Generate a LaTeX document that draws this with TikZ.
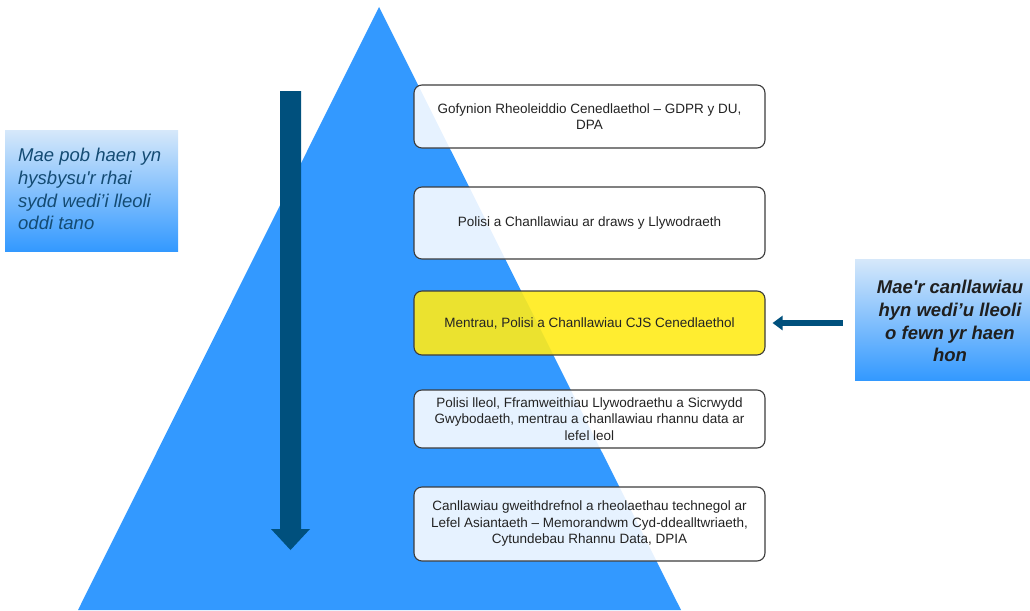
\documentclass[tikz,border=0pt]{standalone}
\usepackage{fontspec}
\setmainfont{Liberation Sans}[Ligatures=TeXOff]
\usetikzlibrary{arrows.meta}
\definecolor{triblue}{RGB}{51,153,255}
\definecolor{darkarrow}{RGB}{0,80,125}
\definecolor{boxborder}{RGB}{60,60,60}
\definecolor{boxtext}{RGB}{35,35,35}
\definecolor{ylw}{RGB}{255,235,25}
\definecolor{shadetop}{RGB}{214,232,250}
\definecolor{lefttext}{RGB}{20,75,115}
\tikzset{
  layerbox/.style={draw=boxborder, line width=1.1pt, rounded corners=8pt,
    fill=white, fill opacity=0.88, text opacity=1, text=boxtext,
    minimum width=351pt, align=center, font=\fontsize{13.5}{16.5}\selectfont,
    inner sep=0pt},
  hilitebox/.style={layerbox, fill=ylw, fill opacity=0.9},
  notebox/.style={top color=shadetop, bottom color=triblue, inner sep=0pt},
  harrow/.style={draw=darkarrow, line width=6pt, -{Triangle[width=14pt,length=10pt]}},
}
\begin{document}
\begin{tikzpicture}[x=1pt,y=-1pt]
\useasboundingbox (0,0) rectangle (1030,610);
% pyramid
\fill[triblue] (379,7) -- (78,610) -- (681,610) -- cycle;
% vertical arrow
\fill[darkarrow] (280,91) -- (301,91) -- (301,529) -- (310,529) -- (290.5,550)
  -- (271,529) -- (280,529) -- cycle;
% layer boxes
\node[layerbox, minimum height=63pt] (b1) at (589.5,116.5)
  {Gofynion Rheoleiddio Cenedlaethol – GDPR y DU,\\DPA};
\node[layerbox, minimum height=72pt] (b2) at (589.5,223)
  {Polisi a Chanllawiau ar draws y Llywodraeth};
\node[hilitebox, minimum height=64pt] (b3) at (589.5,323)
  {Mentrau, Polisi a Chanllawiau CJS Cenedlaethol};
\node[layerbox, minimum height=58pt] (b4) at (589.5,419)
  {Polisi lleol, Fframweithiau Llywodraethu a Sicrwydd\\Gwybodaeth, mentrau a chanllawiau rhannu data ar\\lefel leol};
\node[layerbox, minimum height=74pt] (b5) at (589.5,524)
  {Canllawiau gweithdrefnol a rheolaethau technegol ar\\Lefel Asiantaeth – Memorandwm Cyd-ddealltwriaeth,\\Cytundebau Rhannu Data, DPIA};
% left note
\node[notebox, minimum width=173pt, minimum height=121pt] (lnote) at (91.5,190.5) {};
\node[anchor=north west, align=left, inner sep=0pt, text=lefttext,
  font=\fontsize{18.5}{22.7}\selectfont\itshape] (ltext) at (18,148)
  {Mae pob haen yn\\hysbysu'r rhai\\sydd wedi’i lleoli\\oddi tano};
% right note
\node[notebox, minimum width=180pt, minimum height=121pt] (rnote) at (945,319.5) {};
\node[align=center, inner sep=0pt, text=black!88,
  font=\fontsize{18.5}{22.8}\selectfont\bfseries\itshape] (rtext) at (950,321)
  {Mae'r canllawiau\\hyn wedi’u lleoli\\o fewn yr haen\\hon};
% horizontal arrow
\draw[harrow, shorten <=12pt, shorten >=7pt] (rnote.west |- b3.east) -- (b3.east);
\end{tikzpicture}
\end{document}
